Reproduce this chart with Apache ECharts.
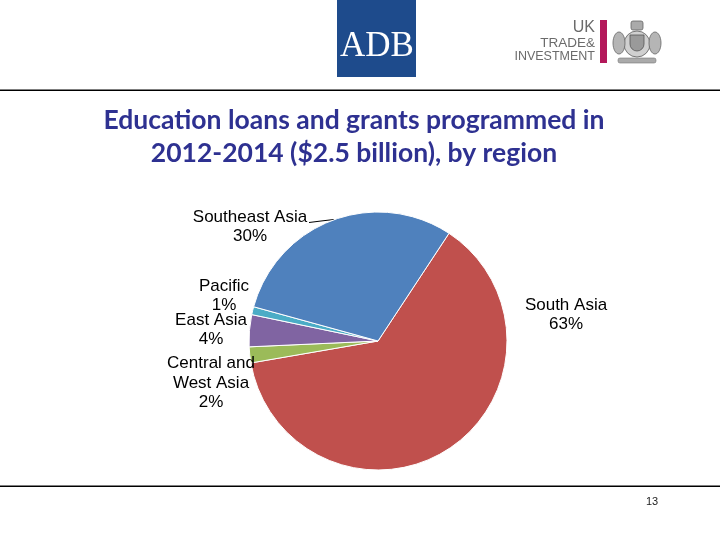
<!DOCTYPE html>
<html>
<head>
<meta charset="utf-8">
<script src="https://cdn.jsdelivr.net/npm/echarts@6/dist/echarts.min.js"></script>
<style>html,body{margin:0;padding:0;background:#fff}#c{width:720px;height:540px}</style>
</head>
<body>
<div id="c"></div>
<script>
// Data
const categories = ['South Asia', 'Central and\nWest Asia', 'East Asia', 'Pacific', 'Southeast Asia'];
const shares = [63, 2, 4, 1, 30];
const sliceColors = ['#C0504D', '#9BBB59', '#8064A2', '#4BACC6', '#4F81BD'];
const titleLines = ['Education loans and grants programmed in', '2012-2014 ($2.5 billion), by region'];
const pageNumber = '13';

// label anchor positions (layout only)
const labelPos = [[566, 315], [211, 383], [211, 330], [224, 296], [250, 227]];

const chart = echarts.init(document.getElementById('c'), null, {renderer: 'canvas'});

const pieData = categories.map((name, i) => ({
  name: name,
  value: shares[i],
  itemStyle: {color: sliceColors[i]},
  labelLine: {show: name === 'Southeast Asia'}
}));

chart.setOption({
  backgroundColor: '#ffffff',
  animation: false,
  title: {
    text: titleLines.join('\n'),
    left: 349,
    top: 99,
    textAlign: 'center',
    textStyle: {
      fontFamily: 'Lato',
      fontWeight: 'bold',
      fontSize: 26.5,
      lineHeight: 33,
      color: '#2E3191'
    }
  },
  series: [{
    type: 'pie',
    center: [378, 341],
    radius: 129,
    startAngle: 56.6,
    clockwise: true,
    itemStyle: {borderColor: '#ffffff', borderWidth: 1},
    label: {
      show: true,
      position: 'outside',
      formatter: p => p.name + '\n' + p.value + '%',
      fontFamily: 'Liberation Sans',
      fontSize: 17,
      lineHeight: 19.5,
      color: '#000000',
      align: 'center'
    },
    labelLine: {show: false, length: 10, length2: 10, lineStyle: {color: '#000', width: 1}},
    labelLayout: function (params) {
      const p = labelPos[params.dataIndex];
      const out = {x: p[0], y: p[1], align: 'center', verticalAlign: 'middle'};
      if (params.dataIndex === 4) {
        out.labelLinePoints = [[309, 222.5], [321, 221], [334, 219.5]];
      }
      return out;
    },
    emphasis: {disabled: true},
    data: pieData
  }],
  graphic: [
    // top rule
    {type: 'rect', shape: {x: 0, y: 89.5, width: 720, height: 1.6}, style: {fill: '#000'}},
    // bottom rule
    {type: 'rect', shape: {x: 0, y: 485.5, width: 720, height: 1.6}, style: {fill: '#000'}},
    // ADB logo
    {type: 'rect', shape: {x: 337, y: 0, width: 79, height: 77}, style: {fill: '#1E4B8C'}},
    {type: 'text', style: {text: 'ADB', x: 377, y: 47, align: 'center', verticalAlign: 'middle',
      font: '35px "Liberation Serif", serif', fill: '#ffffff'}},
    // UK Trade & Investment
    {type: 'text', style: {text: 'UK', x: 595, y: 28, align: 'right', verticalAlign: 'middle',
      font: '16px "Liberation Sans", sans-serif', fill: '#6b6b6b'}},
    {type: 'text', style: {text: 'TRADE&', x: 595, y: 43, align: 'right', verticalAlign: 'middle',
      font: '13.5px "Liberation Sans", sans-serif', fill: '#6b6b6b'}},
    {type: 'text', style: {text: 'INVESTMENT', x: 595, y: 57, align: 'right', verticalAlign: 'middle',
      font: '12.5px "Liberation Sans", sans-serif', fill: '#6b6b6b'}},
    {type: 'rect', shape: {x: 600, y: 20, width: 7, height: 43}, style: {fill: '#B3185A'}},
    // coat of arms (simplified)
    {type: 'group', children: [
      {type: 'circle', shape: {cx: 637, cy: 44, r: 13}, style: {fill: '#d0d0d0', stroke: '#777', lineWidth: 1}},
      {type: 'rect', shape: {x: 630, y: 35, width: 14, height: 16, r: [0, 0, 7, 7]}, style: {fill: '#9a9a9a', stroke: '#555', lineWidth: 0.8}},
      {type: 'rect', shape: {x: 631, y: 21, width: 12, height: 9, r: 2}, style: {fill: '#aaa', stroke: '#666', lineWidth: 0.8}},
      {type: 'ellipse', shape: {cx: 619, cy: 43, rx: 6, ry: 11}, style: {fill: '#b5b5b5', stroke: '#666', lineWidth: 0.8}},
      {type: 'ellipse', shape: {cx: 655, cy: 43, rx: 6, ry: 11}, style: {fill: '#b5b5b5', stroke: '#666', lineWidth: 0.8}},
      {type: 'rect', shape: {x: 618, y: 58, width: 38, height: 5, r: 2}, style: {fill: '#aaa', stroke: '#777', lineWidth: 0.6}}
    ]},
    // page number
    {type: 'text', style: {text: pageNumber, x: 652, y: 502, align: 'center', verticalAlign: 'middle',
      font: '11px "Liberation Sans", sans-serif', fill: '#222'}}
  ]
});
</script>
</body>
</html>
